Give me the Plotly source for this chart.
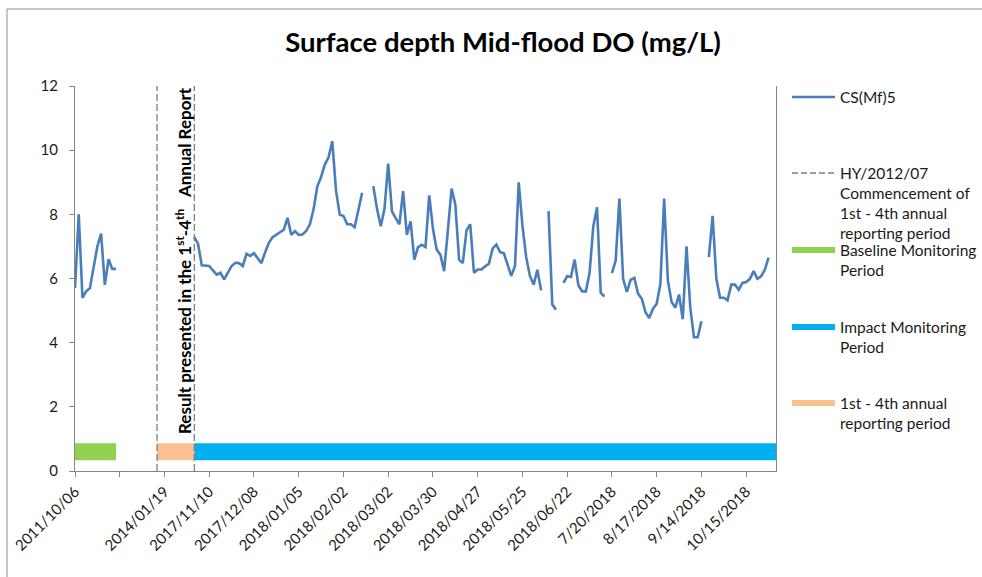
import plotly.graph_objects as go

# ---------------- data ----------------
baseline_values = [5.7, 8.0, 5.4, 5.6, 5.7, 6.3, 7.0, 7.4, 5.8, 6.6, 6.3, 6.3]
gap_values = [None] * 20
impact_values = [
    7.29, 7.08, 6.41, 6.41, 6.39, 6.25, 6.12, 6.18, 5.97, 6.18,   # 32-41
    6.39, 6.49, 6.48, 6.39, 6.77, 6.70, 6.79, 6.63, 6.48, 6.82,   # 42-51
    7.11, 7.29, 7.37, 7.44, 7.52, 7.89, 7.36, 7.48, 7.36, 7.37,   # 52-61
    7.48, 7.69, 8.17, 8.88, 9.16, 9.55, 9.78, 10.28, 8.74, 7.99,  # 62-71
    7.95, 7.69, 7.69, 7.60, 8.19, 8.67, None, None, 8.88, 8.17,   # 72-81
    7.63, 8.17, 9.58, 8.09, 7.88, 7.69, 8.72, 7.36, 7.78, 6.59,   # 82-91
    6.98, 7.05, 6.98, 8.59, 7.55, 6.90, 6.74, 6.23, 7.50, 8.80,   # 92-101
    8.31, 6.59, 6.48, 7.50, 7.69, 6.18, 6.28, 6.28, 6.38, 6.46,   # 102-111
    6.93, 7.06, 6.82, 6.79, 6.44, 6.08, 6.39, 9.00, 7.65, 6.67,   # 112-121
    6.08, 5.81, 6.27, 5.63, None, 8.10, 5.19, 5.03, None, 5.86,   # 122-131
    6.07, 6.05, 6.59, 5.79, 5.60, 5.60, 6.17, 7.62, 8.22, 5.55,   # 132-141
    5.44, None, 6.17, 6.56, 8.49, 5.99, 5.58, 5.96, 6.02, 5.53,   # 142-151
    5.37, 4.95, 4.77, 5.06, 5.21, 5.84, 8.49, 5.94, 5.27, 5.09,   # 152-161
    5.50, 4.73, 7.00, 5.11, 4.17, 4.17, 4.67, None, 6.67, 7.95,   # 162-171
    5.99, 5.40, 5.40, 5.32, 5.81, 5.81, 5.65, 5.86, 5.89, 5.99,   # 172-181
    6.23, 5.99, 6.07, 6.27, 6.65, None, None,                      # 182-188
]
do_values = baseline_values + gap_values + impact_values
categories = list(range(len(do_values)))

tick_step = 12
tick_labels = ["2011/10/06", "", "2014/01/19", "2017/11/10", "2017/12/08",
               "2018/01/05", "2018/02/02", "2018/03/02", "2018/03/30",
               "2018/04/27", "2018/05/25", "2018/06/22", "7/20/2018",
               "8/17/2018", "9/14/2018", "10/15/2018"]
labelled_ticks = [(i * tick_step, t) for i, t in enumerate(tick_labels) if t]
tick_positions = [p for p, _ in labelled_ticks]
tick_texts = [t for _, t in labelled_ticks]

commencement_x = [22, 32]          # dashed marker lines (category index)
baseline_period = [0, 11]
reporting_period = [22, 32]
impact_period = [32, 188]
period_level = 0.6

legend_labels = ["CS(Mf)5",
                 "HY/2012/07<br>Commencement of<br>1st - 4th annual<br>reporting period",
                 "Baseline Monitoring<br>Period",
                 "Impact Monitoring<br>Period",
                 "1st - 4th annual<br>reporting period"]

# ---------------- styling ----------------
FONT = "Lato"
BLUE_LINE = "#4A7EBB"
GREEN = "#92D050"
CYAN = "#00B0F0"
ORANGE = "#FAC090"
DASH_GRAY = "#7F7F7F"
AXIS_GRAY = "#868686"
TXT = "#1a1a1a"

W, H = 982, 577
L, R, T, B = 75, 776, 86, 471


def px_x(px):
    return (px - L) / (R - L)


def px_y(py):
    return (B - py) / (B - T)


fig = go.Figure()

# period bars
for rng, col in [(baseline_period, GREEN), (reporting_period, ORANGE), (impact_period, CYAN)]:
    fig.add_trace(go.Scatter(x=rng, y=[period_level, period_level], mode="lines",
                             line=dict(color=col, width=17), showlegend=False,
                             hoverinfo="skip"))

# dashed lines
dx, dy = [], []
for xv in commencement_x:
    dx += [xv, xv, None]
    dy += [0, 12, None]
fig.add_trace(go.Scatter(x=dx, y=dy, mode="lines",
                         line=dict(color=DASH_GRAY, width=1.3, dash="7px,3px"),
                         showlegend=False, hoverinfo="skip"))

# main series
fig.add_trace(go.Scatter(x=categories, y=do_values, mode="lines",
                         line=dict(color=BLUE_LINE, width=2.6),
                         connectgaps=False, showlegend=False, name="CS(Mf)5"))

# ---------------- manual legend ----------------
sym_y = [97, 173, 250, 327, 403]
sym_style = [dict(color=BLUE_LINE, width=2.5),
             dict(color=DASH_GRAY, width=1.3, dash="6px,3px"),
             dict(color=GREEN, width=6),
             dict(color=CYAN, width=6),
             dict(color=ORANGE, width=6)]
shapes = []
annotations = []
for lab, yy, st in zip(legend_labels, sym_y, sym_style):
    shapes.append(dict(type="line", xref="paper", yref="paper",
                       x0=px_x(792), x1=px_x(835), y0=px_y(yy), y1=px_y(yy),
                       line=st))
    annotations.append(dict(xref="paper", yref="paper", x=px_x(838), y=px_y(yy - 11),
                            xanchor="left", yanchor="top", align="left",
                            text=lab, showarrow=False,
                            font=dict(family=FONT, size=15.5, color=TXT)))

# chart outer border
shapes.append(dict(type="rect", xref="paper", yref="paper",
                   x0=px_x(7), x1=px_x(995), y0=px_y(9), y1=px_y(600),
                   line=dict(color="#8C8C8C", width=1), layer="below"))

# vertical text
annotations.append(dict(xref="paper", yref="paper", x=px_x(183), y=px_y(261),
                        xanchor="center", yanchor="middle", textangle=-90,
                        text="Result presented in the 1<sup>st</sup>-4<sup>th</sup>\u00a0\u00a0\u00a0Annual Report",
                        showarrow=False,
                        font=dict(family=FONT, size=17, color="#000000", weight="bold")))

fig.update_layout(
    width=W, height=H,
    margin=dict(l=L, r=W - R, t=T, b=H - B),
    paper_bgcolor="white", plot_bgcolor="white",
    title=dict(text="<b>Surface depth Mid-flood DO (mg/L)</b>",
               x=503 / W, xanchor="center", y=1 - 42 / H, yanchor="middle",
               font=dict(family=FONT, size=27.5, color="#000000")),
    showlegend=False,
    shapes=shapes,
    annotations=annotations,
    xaxis=dict(range=[0, len(do_values) - 1], tickmode="array",
               tickvals=tick_positions, ticktext=tick_texts, tickangle=-45,
               showgrid=False, zeroline=False, showline=True,
               linecolor=AXIS_GRAY, linewidth=1.3, ticks="outside", ticklen=5,
               tickcolor=AXIS_GRAY, tickfont=dict(family=FONT, size=15, color=TXT),
               minor=dict(tick0=0, dtick=tick_step, ticks="outside", ticklen=5,
                          tickcolor=AXIS_GRAY, showgrid=False)),
    yaxis=dict(range=[0, 12], dtick=2, showgrid=False, zeroline=False,
               showline=True, mirror=True, linecolor=AXIS_GRAY, linewidth=1.3,
               ticks="outside", ticklen=5, tickcolor=AXIS_GRAY,
               ticklabelstandoff=8,
               tickfont=dict(family=FONT, size=15, color=TXT)),
)

fig.write_html("out.html")
